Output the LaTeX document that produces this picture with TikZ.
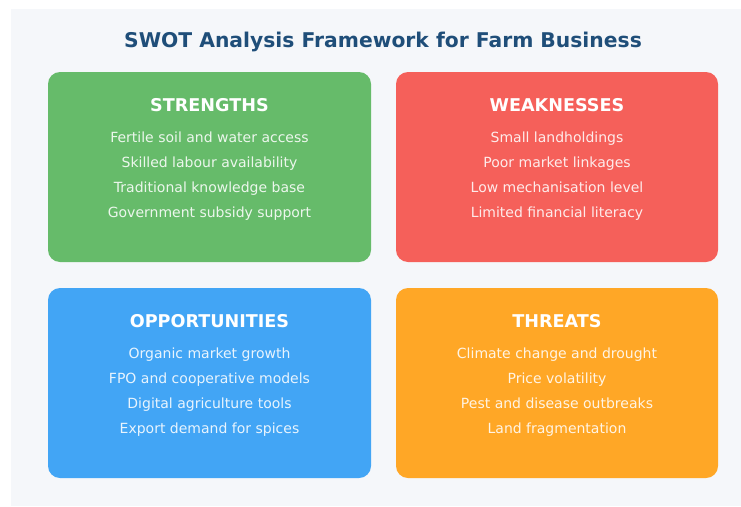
\documentclass[tikz,border=0pt]{standalone}
\usepackage{fontspec}
\setmainfont{DejaVu Sans}
\definecolor{bgcol}{HTML}{F5F7FA}
\definecolor{titlecol}{HTML}{1F4E79}
\definecolor{strcol}{HTML}{66BB6A}
\definecolor{weakcol}{HTML}{F5605A}
\definecolor{oppcol}{HTML}{42A5F5}
\definecolor{thrcol}{HTML}{FFA726}
\tikzset{
    quad/.style={rounded corners=12pt},
    head/.style={anchor=base,text=white,font=\bfseries\fontsize{17.6}{20}\selectfont},
    item/.style={anchor=base,text=white,text opacity=0.88,font=\fontsize{14}{16}\selectfont},
}
\begin{document}
\begin{tikzpicture}[x=1pt,y=-1pt]
        \useasboundingbox[fill=white] (0,0) rectangle (741,506);
        \fill[bgcol] (11,9) rectangle (741,506);
        \node[anchor=base,text=titlecol,font=\bfseries\fontsize{20.3}{24}\selectfont] (title) at (383,47) {SWOT Analysis Framework for Farm Business};
        % --- strengths: top left ---
        \begin{scope}[shift={(48,72)}]
            \fill[strcol,quad] (0,0) rectangle (323,190);
            \node[head] (s-head) at (161.5,39) {STRENGTHS};
            \node[item] (s-1) at (161.5,70) {Fertile soil and water access};
            \node[item] (s-2) at (161.5,95) {Skilled labour availability};
            \node[item] (s-3) at (161.5,120) {Traditional knowledge base};
            \node[item] (s-4) at (161.5,145.5) {Government subsidy support};
        \end{scope}
        % --- weaknesses: top right ---
        \begin{scope}[shift={(396,72)}]
            \fill[weakcol,quad] (0,0) rectangle (322,190);
            \node[head] (w-head) at (161,39) {WEAKNESSES};
            \node[item] (w-1) at (161,70) {Small landholdings};
            \node[item] (w-2) at (161,95) {Poor market linkages};
            \node[item] (w-3) at (161,120) {Low mechanisation level};
            \node[item] (w-4) at (161,145.5) {Limited financial literacy};
        \end{scope}
        % --- opportunities: bottom left ---
        \begin{scope}[shift={(48,288)}]
            \fill[oppcol,quad] (0,0) rectangle (323,190);
            \node[head] (o-head) at (161.5,39) {OPPORTUNITIES};
            \node[item] (o-1) at (161.5,70) {Organic market growth};
            \node[item] (o-2) at (161.5,95) {FPO and cooperative models};
            \node[item] (o-3) at (161.5,120) {Digital agriculture tools};
            \node[item] (o-4) at (161.5,145.5) {Export demand for spices};
        \end{scope}
        % --- threats: bottom right ---
        \begin{scope}[shift={(396,288)}]
            \fill[thrcol,quad] (0,0) rectangle (322,190);
            \node[head] (t-head) at (161,39) {THREATS};
            \node[item] (t-1) at (161,70) {Climate change and drought};
            \node[item] (t-2) at (161,95) {Price volatility};
            \node[item] (t-3) at (161,120) {Pest and disease outbreaks};
            \node[item] (t-4) at (161,145.5) {Land fragmentation};
        \end{scope}
    \end{tikzpicture}
\end{document}
